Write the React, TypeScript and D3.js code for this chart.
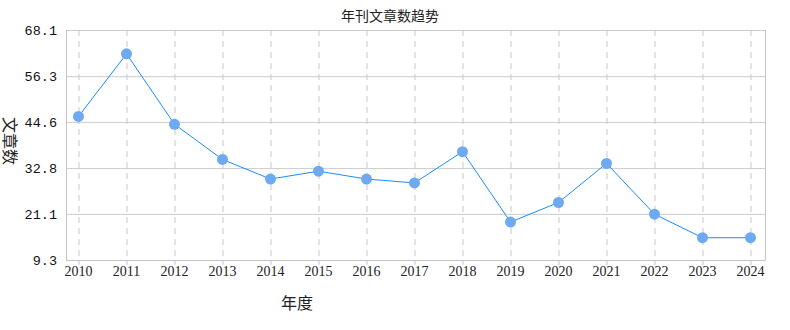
import { useEffect, useRef } from "react";
import * as d3 from "d3";

const years = ["2010", "2011", "2012", "2013", "2014", "2015", "2016", "2017", "2018", "2019", "2020", "2021", "2022", "2023", "2024"];
const counts = [46, 62, 44, 35, 30, 32, 30, 29, 37, 19, 24, 34, 21, 15, 15];
const yTicks = [9.3, 21.1, 32.8, 44.6, 56.3, 68.1];

const W = 790, H = 330;

const App = () => {
  const svgRef = useRef<SVGSVGElement>(null);

  useEffect(() => {
    if (!svgRef.current) return;
    const svg = d3.select(svgRef.current);
    svg.selectAll("*").remove();

    const m = { top: 30, right: 25, bottom: 70, left: 66 };
    const x = d3.scalePoint<string>().domain(years).range([m.left + 12.5, W - m.right - 14.5]);
    const y = d3.scaleLinear().domain([9.3, 68.1]).range([H - m.bottom, m.top]);

    // horizontal grid
    svg.append("g")
      .selectAll("line")
      .data(yTicks)
      .join("line")
      .attr("x1", m.left).attr("x2", W - m.right)
      .attr("y1", (d) => y(d) + 0.5).attr("y2", (d) => y(d) + 0.5)
      .attr("stroke", "#cccccc");

    // vertical dashed grid
    svg.append("g")
      .selectAll("line")
      .data(years)
      .join("line")
      .attr("x1", (d) => x(d)! + 0.5).attr("x2", (d) => x(d)! + 0.5)
      .attr("y1", m.top).attr("y2", H - m.bottom + 5)
      .attr("stroke", "#c8c8c8")
      .attr("stroke-dasharray", "6,5");

    // frame
    svg.append("path")
      .attr("d", `M${m.left + 0.5},${m.top}V${H - m.bottom + 0.5}H${W - m.right + 0.5}V${m.top}`)
      .attr("fill", "none")
      .attr("stroke", "#c4c4c4");

    // y tick labels
    svg.append("g")
      .selectAll("text")
      .data(yTicks)
      .join("text")
      .attr("x", m.left - 9)
      .attr("y", (d) => y(d) + 5)
      .attr("text-anchor", "end")
      .attr("font-family", "'Liberation Mono', 'DejaVu Sans Mono', monospace")
      .attr("font-size", 13.5)
      .attr("fill", "#111")
      .text((d) => d.toFixed(1));

    // x tick labels
    svg.append("g")
      .selectAll("text")
      .data(years)
      .join("text")
      .attr("x", (d) => x(d)!)
      .attr("y", H - m.bottom + 16)
      .attr("text-anchor", "middle")
      .attr("font-family", "'Liberation Serif', 'DejaVu Serif', serif")
      .attr("font-size", 14)
      .attr("fill", "#222")
      .text((d) => d);

    const line = d3.line<number>()
      .x((_, i) => x(years[i])!)
      .y((d) => y(d));

    svg.append("path")
      .datum(counts)
      .attr("d", line)
      .attr("fill", "none")
      .attr("stroke", "#1a8cff")
      .attr("stroke-width", 1);

    svg.append("g")
      .selectAll("circle")
      .data(counts)
      .join("circle")
      .attr("cx", (_, i) => x(years[i])!)
      .attr("cy", (d) => y(d))
      .attr("r", 5.5)
      .attr("fill", "#6eaaf2");

    svg.append("text")
      .attr("x", 390)
      .attr("y", 21)
      .attr("text-anchor", "middle")
      .attr("font-family", "'Noto Sans CJK SC', sans-serif")
      .attr("font-size", 14)
      .attr("fill", "#222")
      .text("年刊文章数趋势");

    svg.append("text")
      .attr("x", 297)
      .attr("y", 309)
      .attr("text-anchor", "middle")
      .attr("font-family", "'Noto Sans CJK SC', sans-serif")
      .attr("font-size", 16)
      .attr("fill", "#222")
      .text("年度");

    svg.append("text")
      .attr("transform", "translate(4,141) rotate(90)")
      .attr("text-anchor", "middle")
      .attr("font-family", "'Noto Sans CJK SC', sans-serif")
      .attr("font-size", 16)
      .attr("fill", "#222")
      .text("文章数");
  }, []);

  return (
    <div style={{ position: "absolute", left: 0, top: 0, background: "#fff" }}>
      <svg ref={svgRef} width={W} height={H} />
    </div>
  );
};

export default App;
